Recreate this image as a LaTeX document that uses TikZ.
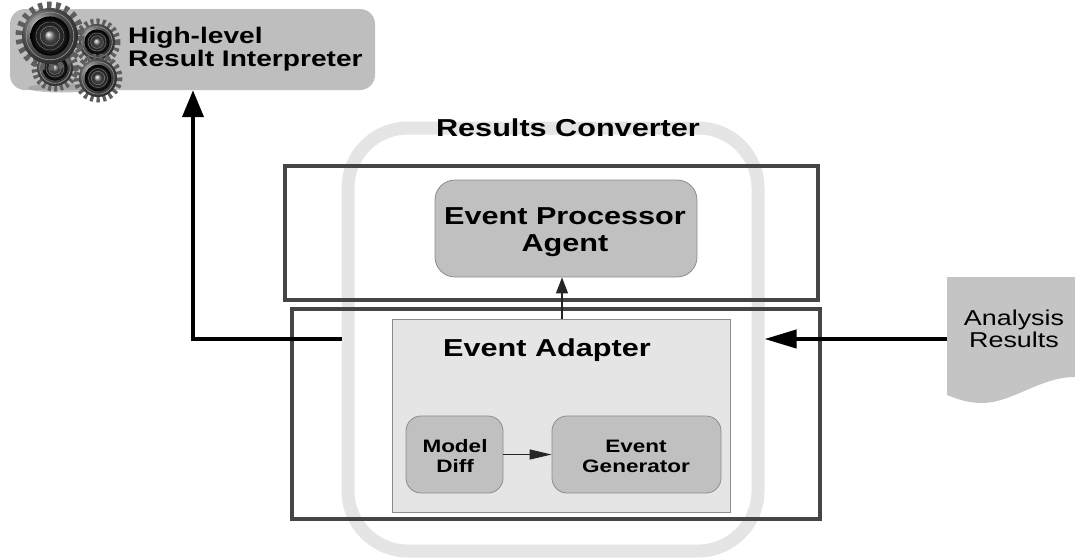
\documentclass[tikz,border=0pt]{standalone}
\usepackage{fontspec}
\setmainfont{Liberation Sans}[FakeStretch=1.25]
\usetikzlibrary{arrows.meta,calc}
\definecolor{framecol}{HTML}{454545}
\definecolor{convcol}{HTML}{E6E5E6}
\definecolor{boxfill}{HTML}{C0C0C0}
\definecolor{boxline}{HTML}{8C8C8C}
\definecolor{adaptfill}{HTML}{E5E5E5}
\definecolor{hlrifill}{HTML}{BEBEBE}
\definecolor{docfill}{HTML}{C4C4C4}
\definecolor{toothcol}{HTML}{5E5E5E}
\begin{document}
\begin{tikzpicture}[x=1pt,y=-1pt,
  rbox/.style={draw=boxline, fill=boxfill, rounded corners=#1, line width=0.8pt, inner sep=0pt},
  framebox/.style={draw=framecol, line width=4pt, inner sep=0pt},
  bigtxt/.style={font=\bfseries\fontsize{24.5}{27}\selectfont, inner sep=0pt},
  midtxt/.style={font=\bfseries\fontsize{18}{20}\selectfont, inner sep=0pt, align=center},
  bigarrow/.style={line width=4pt, draw=black},
  smallarrow/.style={line width=1.2pt, draw=black!85}
]
\useasboundingbox (0,0) rectangle (1075,558);

% High-level Result Interpreter
\node[fill=hlrifill, rounded corners=15pt, minimum width=365pt, minimum height=81pt, inner sep=0pt] (hlri) at (192.5,49.5) {};
% gears
\fill[black!40, opacity=0.6] (62,88) ellipse (34 and 4.5);
\foreach \cx/\cy/\r/\d/\t in {55/68/18/3/6, 97/42/18/3/6, 50/36/28/4.4/8, 98/78/19/3.2/6}{
  \draw[toothcol, line width=\t pt, dash pattern=on \d pt off \d pt] (\cx,\cy) circle (\r+2.5);
  \shade[ball color=black!55] (\cx,\cy) circle (\r);
  \draw[black!40, line width=0.6pt] (\cx,\cy) circle (\r*0.85);
  \shade[inner color=black!65, outer color=black] (\cx,\cy) circle (\r*0.7);
  \draw[black!55, line width=0.5pt] (\cx,\cy) circle (\r*0.5);
  \draw[black!45, line width=0.4pt] (\cx,\cy) circle (\r*0.35);
  \shade[ball color=black!30] (\cx,\cy) circle (\r*0.18);
}
\node[font=\bfseries\fontsize{22.5}{23}\selectfont, align=left, anchor=west, inner sep=0pt] (hlrit) at (128,49) {High-level\\Result Interpreter};

% Results Converter outline
\node[draw=convcol, line width=13pt, rounded corners=60pt, minimum width=410pt, minimum height=423pt, inner sep=0pt] (conv) at (553,339.5) {};

% frames
\node[framebox, minimum width=533pt, minimum height=134pt] (frameA) at (551.5,233) {};
\node[framebox, minimum width=528pt, minimum height=210pt] (frameB) at (556,414) {};

\node[bigtxt, anchor=base] (convt) at (568,136) {Results Converter};

% Event Processor Agent
\node[rbox=20pt, minimum width=262pt, minimum height=97pt] (epa) at (566,228.5) {};
\node[bigtxt, align=center] (epat) at (565,232.5) {Event Processor\\Agent};

% Event Adapter
\node[draw=boxline, fill=adaptfill, line width=0.8pt, minimum width=338pt, minimum height=193pt, inner sep=0pt] (ea) at (561,415.5) {};
\node[bigtxt, anchor=base west] (eat) at (443,356) {Event Adapter};

\node[rbox=15pt, minimum width=97pt, minimum height=77pt] (md) at (454.5,454.5) {};
\node[midtxt] (mdt) at (455,456) {Model\\Diff};
\node[rbox=15pt, minimum width=169pt, minimum height=77pt] (eg) at (636.5,454.5) {};
\node[midtxt] (egt) at (636,456) {Event\\Generator};

\draw[smallarrow, -{Triangle[length=22pt,width=10pt]}] (md.east) -- (eg.west);
\draw[smallarrow, -{Triangle[length=16pt,width=12pt]}] (562,0 |- ea.north) -- (562,0 |- epa.south);

% Analysis Results document
\fill[docfill] (947,277) -- (1075,277) -- (1075,377)
  .. controls (1040,377) and (1012,403) .. (982,403)
  .. controls (966,403) and (955,398) .. (947,395) -- cycle;
\node[font=\fontsize{21.5}{22}\selectfont, align=center, inner sep=0pt] (doct) at (1014,328.5) {Analysis\\Results};
\coordinate (docw) at (947,339);

% big arrows
\draw[bigarrow, -{Triangle[length=32pt,width=18pt]}] (docw) -- (docw -| conv.east);
\coordinate (hx) at (193,0 |- hlri.south);
\draw[bigarrow, -{Triangle[length=27pt,width=21pt]}] (conv.west |- docw) -| (hx);
\end{tikzpicture}
\end{document}
